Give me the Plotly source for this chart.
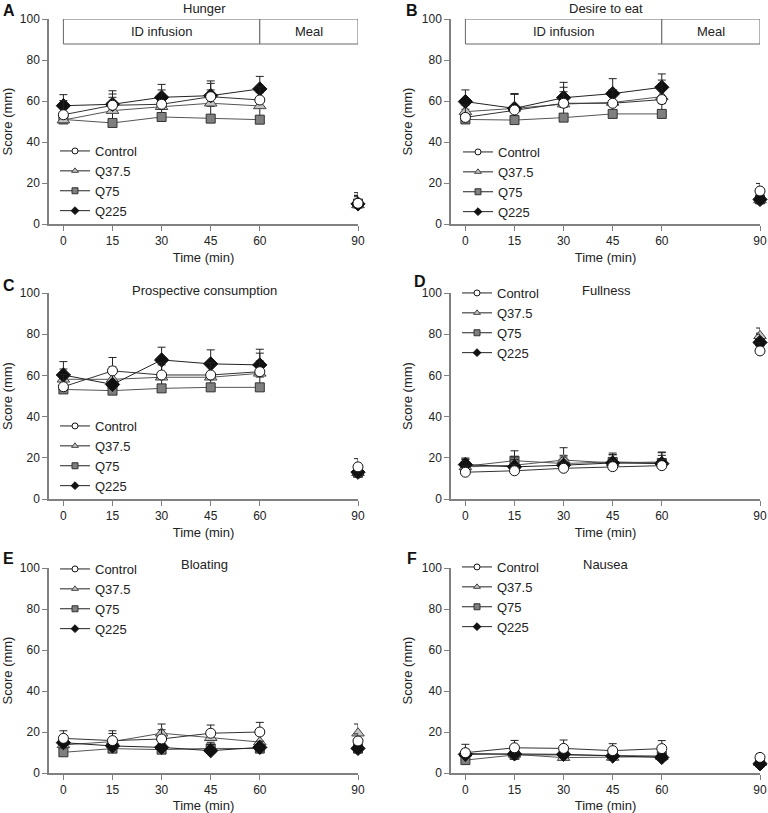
import plotly.graph_objects as go
from plotly.subplots import make_subplots

W, H = 768, 813

# ── Data (mean and upper error) ───────────────────────────────────────────────
TIMES = [0, 15, 30, 45, 60, 90]
GROUPS = ["Control", "Q37.5", "Q75", "Q225"]

hunger_control = [53.3, 57.9, 58.4, 62.1, 60.5, 10.1]
hunger_q375    = [50.7, 55.3, 57.2, 58.9, 57.6, 9.3]
hunger_q75     = [51.0, 49.3, 52.2, 51.4, 50.9, 10.0]
hunger_q225    = [57.7, 58.4, 61.8, 62.6, 65.9, 9.8]
hunger_err_control = [6.9, 7.1, 7.0, 7.7, 6.5, 5.2]
hunger_err_q375    = [6.0, 6.5, 6.0, 6.5, 6.5, 4.0]
hunger_err_q75     = [5.5, 6.0, 6.0, 6.0, 6.0, 4.0]
hunger_err_q225    = [5.4, 5.0, 6.3, 6.0, 6.1, 4.0]

desire_control = [52.0, 55.6, 58.9, 58.9, 60.7, 16.1]
desire_q375    = [54.8, 56.4, 58.5, 59.3, 62.1, 11.7]
desire_q75     = [51.0, 50.7, 51.9, 53.7, 53.7, 12.0]
desire_q225    = [59.7, 56.4, 61.6, 63.6, 66.7, 12.0]
desire_err_control = [6.0, 8.0, 7.8, 6.5, 9.5, 3.7]
desire_err_q375    = [6.0, 7.0, 6.0, 6.0, 6.0, 4.0]
desire_err_q75     = [5.0, 5.0, 5.0, 5.0, 5.0, 3.0]
desire_err_q225    = [5.7, 6.9, 7.5, 7.3, 6.5, 4.0]

prosp_control = [54.5, 62.2, 60.2, 60.2, 61.8, 15.6]
prosp_q375    = [58.1, 58.1, 59.1, 59.1, 61.0, 12.7]
prosp_q75     = [53.2, 52.6, 53.7, 54.2, 54.2, 12.7]
prosp_q225    = [60.2, 55.6, 67.5, 65.6, 65.1, 13.0]
prosp_err_control = [6.0, 6.5, 6.0, 6.0, 9.0, 4.0]
prosp_err_q375    = [5.0, 6.0, 6.0, 6.0, 6.0, 4.0]
prosp_err_q75     = [5.0, 5.0, 5.0, 5.0, 5.0, 3.0]
prosp_err_q225    = [6.5, 6.0, 6.2, 6.8, 7.6, 4.0]

full_control = [13.0, 13.7, 14.9, 15.7, 16.2, 71.9]
full_q375    = [15.6, 16.4, 18.9, 17.5, 18.0, 79.2]
full_q75     = [15.9, 18.6, 17.2, 18.0, 17.5, 76.5]
full_q225    = [16.7, 15.6, 16.4, 17.5, 17.2, 76.0]
full_err_control = [3.0, 3.0, 3.0, 3.0, 3.0, 4.0]
full_err_q375    = [3.5, 4.0, 6.0, 4.0, 4.8, 3.8]
full_err_q75     = [3.5, 4.8, 4.0, 4.3, 5.0, 4.0]
full_err_q225    = [3.2, 3.5, 4.0, 4.0, 4.0, 4.0]

bloat_control = [16.9, 15.8, 16.6, 19.4, 20.0, 15.6]
bloat_q375    = [13.7, 15.3, 19.4, 17.2, 15.1, 19.4]
bloat_q75     = [10.1, 11.9, 11.4, 12.0, 11.9, 11.9]
bloat_q225    = [14.8, 13.2, 12.5, 10.9, 12.5, 12.0]
bloat_err_control = [3.7, 4.8, 4.5, 4.0, 4.7, 3.5]
bloat_err_q375    = [4.0, 4.0, 4.5, 3.5, 3.5, 4.5]
bloat_err_q75     = [3.0, 3.0, 3.0, 3.0, 3.0, 3.0]
bloat_err_q225    = [3.0, 3.0, 3.0, 3.0, 3.0, 3.0]

nausea_control = [9.9, 12.3, 12.0, 10.9, 11.9, 7.6]
nausea_q375    = [9.6, 9.1, 7.5, 7.6, 8.0, 5.0]
nausea_q75     = [6.3, 8.8, 8.8, 8.5, 8.3, 5.2]
nausea_q225    = [9.1, 9.3, 9.1, 8.3, 7.6, 4.5]
nausea_err_control = [4.1, 3.6, 4.1, 3.4, 3.9, 1.8]
nausea_err_q375    = [2.0, 2.0, 2.0, 2.0, 2.0, 2.0]
nausea_err_q75     = [2.0, 2.0, 2.0, 2.0, 2.0, 2.0]
nausea_err_q225    = [2.0, 2.0, 2.0, 2.0, 2.0, 2.0]

PHASES = [("ID infusion", 0, 60), ("Meal", 60, 90)]
PHASE_BOX_BOTTOM = 87.8

# ── Panels: letter, title, means, errors, row, col ───────────────────────────
PANELS = [
    ("A", "Hunger", [hunger_control, hunger_q375, hunger_q75, hunger_q225],
     [hunger_err_control, hunger_err_q375, hunger_err_q75, hunger_err_q225], 1, 1),
    ("B", "Desire to eat", [desire_control, desire_q375, desire_q75, desire_q225],
     [desire_err_control, desire_err_q375, desire_err_q75, desire_err_q225], 1, 2),
    ("C", "Prospective consumption", [prosp_control, prosp_q375, prosp_q75, prosp_q225],
     [prosp_err_control, prosp_err_q375, prosp_err_q75, prosp_err_q225], 2, 1),
    ("D", "Fullness", [full_control, full_q375, full_q75, full_q225],
     [full_err_control, full_err_q375, full_err_q75, full_err_q225], 2, 2),
    ("E", "Bloating", [bloat_control, bloat_q375, bloat_q75, bloat_q225],
     [bloat_err_control, bloat_err_q375, bloat_err_q75, bloat_err_q225], 3, 1),
    ("F", "Nausea", [nausea_control, nausea_q375, nausea_q75, nausea_q225],
     [nausea_err_control, nausea_err_q375, nausea_err_q75, nausea_err_q225], 3, 2),
]

# ── Layout geometry in pixels ────────────────────────────────────────────────
COL_X = {1: (49, 358), 2: (451, 760)}
ROW_Y = {1: (19, 224), 2: (293, 499), 3: (568, 773)}
# title (x centre, y), letter (x, y), legend (left x, centre y)
TITLE_POS = {"A": (204, 9), "B": (606, 9), "C": (204, 290), "D": (606, 290),
             "E": (204, 564), "F": (606, 564)}
LETTER_POS = {"A": (1, 10), "B": (404, 10), "C": (1, 285), "D": (412, 282),
              "E": (1, 558), "F": (405, 558)}
LEGEND_POS = {"A": (55, 181), "B": (458, 182), "C": (55, 456), "D": (457, 323),
              "E": (55, 599), "F": (457, 597)}

TEXT = "#222222"
AXIS = "#808080"
FONT = "Liberation Sans, Arial, sans-serif"

STYLE = {
    "Control": dict(symbol="circle", fill="white", size=10, edge="#111111", line="#333333"),
    "Q37.5":   dict(symbol="triangle-up", fill="#c4c4c4", size=11, edge="#444444", line="#555555"),
    "Q75":     dict(symbol="square", fill="#7f7f7f", size=9, edge="#333333", line="#555555"),
    "Q225":    dict(symbol="diamond", fill="#111111", size=11, edge="#111111", line="#222222"),
}
DRAW_ORDER = [2, 1, 3, 0]  # Q75, Q37.5, Q225, Control on top

fig = make_subplots(rows=3, cols=2)


def px_x(p):
    return p / W


def px_y(p):
    return 1 - p / H


for k, (letter, title, means, errs, row, col) in enumerate(PANELS):
    legend_key = "legend" if k == 0 else f"legend{k + 1}"

    # connecting lines + markers + one-sided error bars
    for gi in DRAW_ORDER:
        g = GROUPS[gi]
        st = STYLE[g]
        # 0-60 min joined, 90 min point on its own
        fig.add_trace(go.Scatter(
            x=TIMES[:5], y=means[gi][:5], mode="lines+markers",
            line=dict(color=st["line"], width=1),
            marker=dict(symbol=st["symbol"], size=st["size"], color=st["fill"],
                        line=dict(color=st["edge"], width=1)),
            error_y=dict(type="data", symmetric=False, array=errs[gi][:5],
                         arrayminus=[0] * 5, color="#222222", thickness=1, width=4),
            cliponaxis=False, showlegend=False, hoverinfo="skip",
        ), row=row, col=col)
        fig.add_trace(go.Scatter(
            x=TIMES[5:], y=means[gi][5:], mode="markers",
            marker=dict(symbol=st["symbol"], size=st["size"], color=st["fill"],
                        line=dict(color=st["edge"], width=1)),
            error_y=dict(type="data", symmetric=False, array=errs[gi][5:],
                         arrayminus=[0], color="#222222", thickness=1, width=4),
            cliponaxis=False, showlegend=False, hoverinfo="skip",
        ), row=row, col=col)

    # legend entries (small symbols, like the original key)
    for g in GROUPS:
        st = STYLE[g]
        fig.add_trace(go.Scatter(
            x=[None], y=[None], mode="lines+markers", name=g,
            line=dict(color="#222222", width=1),
            marker=dict(symbol=st["symbol"], size=6, color=st["fill"],
                        line=dict(color=st["edge"], width=1)),
            legend=legend_key, showlegend=True,
        ), row=row, col=col)

    lx, ly = LEGEND_POS[letter]
    fig.update_layout({legend_key: dict(
        x=px_x(lx), y=px_y(ly), xanchor="left", yanchor="middle",
        bgcolor="rgba(0,0,0,0)", borderwidth=0,
        font=dict(size=13, color=TEXT, family=FONT),
        itemclick=False, itemdoubleclick=False,
    )})

    x0, x1 = COL_X[col]
    y0, y1 = ROW_Y[row]
    fig.update_xaxes(
        domain=[px_x(x0), px_x(x1)], range=[-4.4, 90],
        tickvals=TIMES, ticktext=[str(t) for t in TIMES],
        title=dict(text="Time (min)", standoff=6, font=dict(size=13, color=TEXT)),
        row=row, col=col,
    )
    fig.update_yaxes(
        domain=[px_y(y1), px_y(y0)], range=[0, 100],
        tickvals=[0, 20, 40, 60, 80, 100],
        title=dict(text="Score (mm)", standoff=6, font=dict(size=13, color=TEXT)),
        row=row, col=col,
    )

    # panel title and letter
    tx, ty = TITLE_POS[letter]
    fig.add_annotation(x=px_x(tx), y=px_y(ty), xref="paper", yref="paper",
                       text=title, showarrow=False, xanchor="center", yanchor="middle",
                       font=dict(size=13, color=TEXT, family=FONT))
    ax_, ay_ = LETTER_POS[letter]
    fig.add_annotation(x=px_x(ax_), y=px_y(ay_), xref="paper", yref="paper",
                       text=f"<b>{letter}</b>", showarrow=False, xanchor="left",
                       yanchor="middle", font=dict(size=16, color="#111111", family=FONT))

    # protocol phase box on the first row
    if row == 1:
        xr = "x" if k == 0 else f"x{k + 1}"
        yr = "y" if k == 0 else f"y{k + 1}"
        for name, a, b in PHASES:
            fig.add_shape(type="rect", xref=xr, yref=yr, x0=a, x1=b,
                          y0=PHASE_BOX_BOTTOM, y1=100,
                          line=dict(color="#666666", width=1), fillcolor="white",
                          layer="below")
            fig.add_annotation(x=(a + b) / 2, y=(PHASE_BOX_BOTTOM + 100) / 2,
                               xref=xr, yref=yr, text=name, showarrow=False,
                               font=dict(size=13, color=TEXT, family=FONT))

axis_style = dict(showline=True, linecolor=AXIS, linewidth=1.5, ticks="outside",
                  ticklen=5, tickcolor=AXIS, showgrid=False, zeroline=False,
                  automargin=False, tickfont=dict(size=12, color=TEXT, family=FONT))
fig.update_xaxes(**axis_style)
fig.update_yaxes(**axis_style)

fig.update_layout(
    width=W, height=H,
    margin=dict(l=0, r=0, t=0, b=0, autoexpand=False),
    paper_bgcolor="white", plot_bgcolor="white",
    font=dict(family=FONT, color=TEXT, size=12),
)

# the page body has a default 8px margin; drop it so the figure fills the window
fig.write_html("out.html",
               config={"displayModeBar": False},
               post_script="document.body.style.margin='0px';"
                           "document.body.style.overflow='hidden';")
